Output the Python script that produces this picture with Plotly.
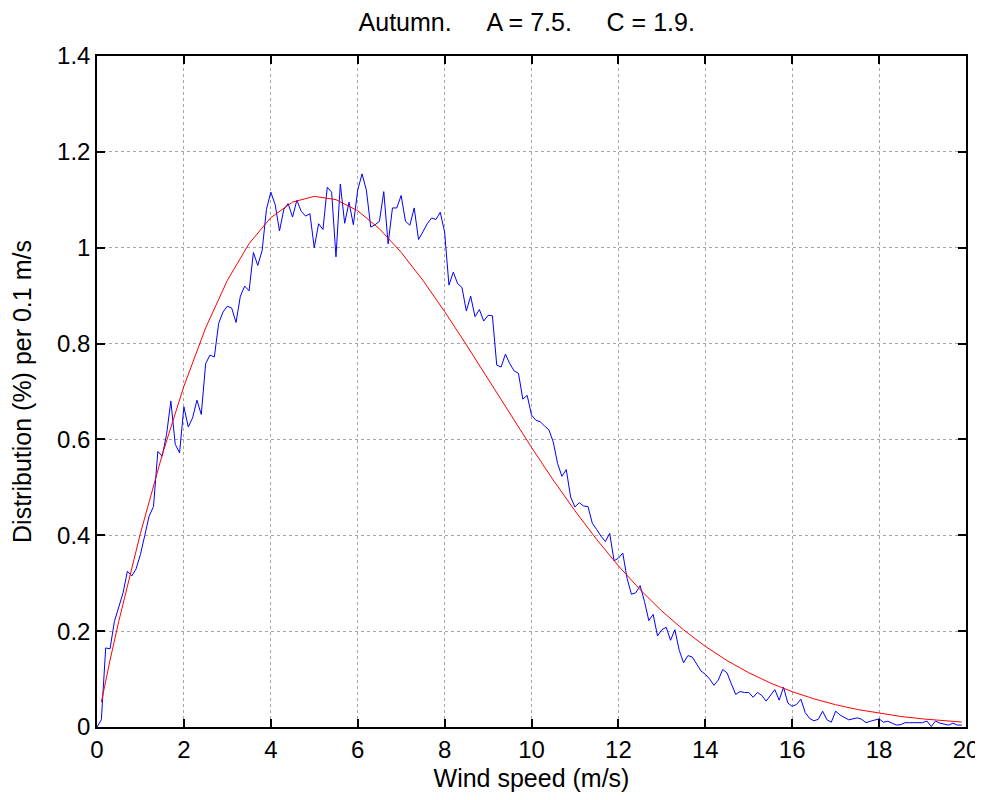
import numpy as np
import plotly.graph_objects as go

# Measured distribution (% per 0.1 m/s), bins every 0.1 m/s from 0.0 to 19.9
speed_bins = np.round(np.arange(200) * 0.1, 1)
measured = [
    0.0, 0.015, 0.165, 0.163, 0.22, 0.25, 0.28, 0.325, 0.315, 0.33,
    0.36, 0.40, 0.44, 0.46, 0.575, 0.565, 0.61, 0.68, 0.59, 0.572,
    0.668, 0.626, 0.645, 0.682, 0.652, 0.758, 0.776, 0.772, 0.842, 0.866,
    0.878, 0.874, 0.844, 0.899, 0.92, 0.91, 0.99, 0.963, 0.994, 1.08,
    1.116, 1.09, 1.035, 1.08, 1.092, 1.064, 1.099, 1.076, 1.066, 1.071,
    1.0, 1.05, 1.038, 1.126, 1.116, 0.981, 1.133, 1.051, 1.095, 1.048,
    1.12, 1.154, 1.12, 1.043, 1.048, 1.055, 1.117, 1.008, 1.083, 1.083,
    1.109, 1.055, 1.047, 1.083, 1.017, 1.033, 1.05, 1.062, 1.059, 1.074,
    1.033, 0.922, 0.949, 0.925, 0.917, 0.868, 0.899, 0.856, 0.871, 0.847,
    0.859, 0.858, 0.755, 0.751, 0.778, 0.758, 0.743, 0.738, 0.684, 0.692,
    0.651, 0.64, 0.637, 0.628, 0.62, 0.595, 0.55, 0.523, 0.537, 0.48,
    0.459, 0.468, 0.461, 0.46, 0.425, 0.412, 0.398, 0.387, 0.404, 0.347,
    0.352, 0.363, 0.31, 0.277, 0.28, 0.295, 0.262, 0.222, 0.235, 0.19,
    0.203, 0.208, 0.181, 0.203, 0.16, 0.134, 0.149, 0.146, 0.13, 0.117,
    0.11, 0.1, 0.087, 0.098, 0.12, 0.113, 0.09, 0.068, 0.074, 0.072,
    0.072, 0.062, 0.072, 0.066, 0.054, 0.066, 0.078, 0.056, 0.083, 0.05,
    0.043, 0.047, 0.058, 0.03, 0.018, 0.013, 0.016, 0.033, 0.015, 0.01,
    0.033, 0.025, 0.02, 0.015, 0.017, 0.019, 0.016, 0.009, 0.012, 0.014,
    0.017, 0.01, 0.012, 0.008, 0.004, 0.005, 0.009, 0.009, 0.009, 0.009,
    0.009, 0.0125, 0.001, 0.0125, 0.008, 0.006, 0.004, 0.008, 0.004, 0.004,
]

# Fitted curve
fit_speed = [0.1, 0.2, 0.3, 0.5, 0.75, 1.0, 1.5, 2.0, 2.5, 3.0, 3.5, 4.0, 4.5, 5.0,
             5.5, 6.0, 6.5, 7.0, 7.5, 8.0, 8.5, 9.0, 9.5, 10.0, 10.5, 11.0, 11.5,
             12.0, 12.5, 13.0, 13.5, 14.0, 14.5, 15.0, 15.5, 16.0, 16.5, 17.0,
             17.5, 18.0, 18.5, 19.0, 19.5, 19.9]
fit_values = [0.0519, 0.0970, 0.1395, 0.2201, 0.3149, 0.4042, 0.5678, 0.7109,
              0.8326, 0.9319, 1.0086, 1.0628, 1.0952, 1.1071, 1.1004, 1.0771,
              1.0396, 0.9904, 0.9320, 0.8669, 0.7975, 0.7259, 0.6540, 0.5834,
              0.5154, 0.4511, 0.3913, 0.3362, 0.2865, 0.2419, 0.2026, 0.1682,
              0.1386, 0.1132, 0.0917, 0.0737, 0.0588, 0.0465, 0.0365, 0.0285,
              0.0220, 0.0169, 0.0129, 0.0103]

x_ticks = [0, 2, 4, 6, 8, 10, 12, 14, 16, 18, 20]
y_ticks = [0, 0.2, 0.4, 0.6, 0.8, 1.0, 1.2, 1.4]
y_tick_labels = ["0", "0.2", "0.4", "0.6", "0.8", "1", "1.2", "1.4"]

FONT = "Arial, Liberation Sans, Helvetica, sans-serif"
FS = 24
FS_LABEL = 25
sp = "\u00a0" * 5
title = f"Autumn.{sp}A = 7.5.{sp}C = 1.9."

fig = go.Figure()
fig.add_trace(go.Scatter(x=speed_bins, y=measured, mode="lines",
                         line=dict(color="#0000ff", width=1), showlegend=False))
fig.add_trace(go.Scatter(x=fit_speed, y=fit_values, mode="lines",
                         line=dict(color="#ff0000", width=1), showlegend=False))

axis_common = dict(
    showline=True, linecolor="black", linewidth=1.5, mirror="ticks",
    ticks="inside", ticklen=8, tickwidth=1.5, tickcolor="black",
    showgrid=True, gridcolor="rgba(0,0,0,0.35)", griddash="dot", gridwidth=1,
    zeroline=False, automargin=False,
    tickfont=dict(family=FONT, size=FS, color="black"),
)

# page body adds an 8px margin; figure sized to fit the 983x800 window
fig.update_layout(
    width=975, height=784,
    paper_bgcolor="white", plot_bgcolor="white",
    margin=dict(l=89, r=17, t=48, b=65, autoexpand=False),
    title=dict(text=title, x=0.532, xanchor="center", y=0.982, yanchor="middle",
               automargin=False,
               font=dict(family=FONT, size=FS_LABEL, color="black")),
    xaxis=dict(range=[0, 20], tickvals=x_ticks,
               title=dict(text="Wind speed (m/s)", standoff=12,
                          font=dict(family=FONT, size=FS_LABEL, color="black")),
               **axis_common),
    yaxis=dict(range=[0, 1.4], tickvals=y_ticks, ticktext=y_tick_labels,
               title=dict(text="Distribution (%) per 0.1 m/s", standoff=22,
                          font=dict(family=FONT, size=FS_LABEL, color="black")),
               **axis_common),
)

fig.write_html("out.html")
